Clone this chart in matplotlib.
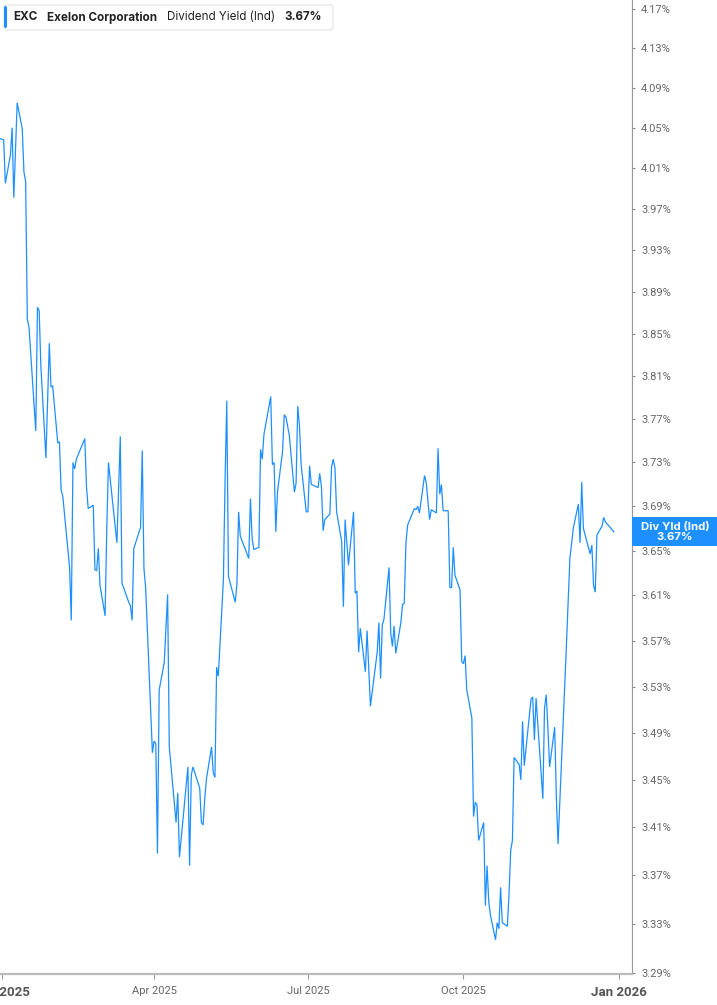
import matplotlib
matplotlib.use("Agg")
import matplotlib.pyplot as plt
from matplotlib.patches import FancyBboxPatch, Rectangle
from matplotlib.ticker import FixedLocator, FuncFormatter, NullLocator
import pandas as pd

# EXC dividend yield (Ind)
dates = [
    "2024-12-31", "2025-01-02", "2025-01-03", "2025-01-06", "2025-01-07", "2025-01-08",
    "2025-01-10", "2025-01-13", "2025-01-14", "2025-01-15", "2025-01-16", "2025-01-17",
    "2025-01-21", "2025-01-22", "2025-01-23", "2025-01-24", "2025-01-27", "2025-01-29",
    "2025-01-30", "2025-01-31", "2025-02-03", "2025-02-04", "2025-02-05", "2025-02-06",
    "2025-02-10", "2025-02-11", "2025-02-12", "2025-02-13", "2025-02-14", "2025-02-19",
    "2025-02-20", "2025-02-21", "2025-02-24", "2025-02-25", "2025-02-26", "2025-02-27",
    "2025-02-28", "2025-03-03", "2025-03-04", "2025-03-05", "2025-03-10", "2025-03-12",
    "2025-03-13", "2025-03-17", "2025-03-18", "2025-03-19", "2025-03-20", "2025-03-24",
    "2025-03-25", "2025-03-26", "2025-03-27", "2025-03-31", "2025-04-01", "2025-04-02",
    "2025-04-03", "2025-04-04", "2025-04-07", "2025-04-09", "2025-04-10", "2025-04-14",
    "2025-04-15", "2025-04-16", "2025-04-21", "2025-04-22", "2025-04-23", "2025-04-24",
    "2025-04-28", "2025-04-29", "2025-04-30", "2025-05-01", "2025-05-02", "2025-05-05",
    "2025-05-06", "2025-05-07", "2025-05-08", "2025-05-09", "2025-05-12", "2025-05-13",
    "2025-05-14", "2025-05-15", "2025-05-19", "2025-05-20", "2025-05-21", "2025-05-22",
    "2025-05-27", "2025-05-28", "2025-05-29", "2025-05-30", "2025-06-02", "2025-06-03",
    "2025-06-04", "2025-06-05", "2025-06-09", "2025-06-10", "2025-06-11", "2025-06-12",
    "2025-06-13", "2025-06-16", "2025-06-17", "2025-06-18", "2025-06-20", "2025-06-23",
    "2025-06-24", "2025-06-25", "2025-06-26", "2025-06-27", "2025-06-30", "2025-07-01",
    "2025-07-02", "2025-07-03", "2025-07-07", "2025-07-08", "2025-07-09", "2025-07-10",
    "2025-07-11", "2025-07-14", "2025-07-15", "2025-07-16", "2025-07-17", "2025-07-18",
    "2025-07-21", "2025-07-22", "2025-07-23", "2025-07-25", "2025-07-28", "2025-07-29",
    "2025-07-30", "2025-07-31", "2025-08-01", "2025-08-04", "2025-08-05", "2025-08-07",
    "2025-08-11", "2025-08-12", "2025-08-13", "2025-08-14", "2025-08-15", "2025-08-18",
    "2025-08-19", "2025-08-20", "2025-08-21", "2025-08-22", "2025-08-25", "2025-08-26",
    "2025-08-27", "2025-08-28", "2025-08-29", "2025-09-02", "2025-09-03", "2025-09-04",
    "2025-09-05", "2025-09-08", "2025-09-09", "2025-09-11", "2025-09-12", "2025-09-15",
    "2025-09-16", "2025-09-17", "2025-09-18", "2025-09-19", "2025-09-22", "2025-09-23",
    "2025-09-24", "2025-09-25", "2025-09-26", "2025-09-29", "2025-09-30", "2025-10-01",
    "2025-10-02", "2025-10-03", "2025-10-06", "2025-10-07", "2025-10-08", "2025-10-09",
    "2025-10-10", "2025-10-13", "2025-10-14", "2025-10-15", "2025-10-16", "2025-10-17",
    "2025-10-20", "2025-10-21", "2025-10-22", "2025-10-23", "2025-10-24", "2025-10-27",
    "2025-10-28", "2025-10-29", "2025-10-30", "2025-10-31", "2025-11-03", "2025-11-04",
    "2025-11-05", "2025-11-06", "2025-11-10", "2025-11-11", "2025-11-12", "2025-11-13",
    "2025-11-17", "2025-11-18", "2025-11-19", "2025-11-20", "2025-11-21", "2025-11-24",
    "2025-11-25", "2025-11-26", "2025-12-01", "2025-12-03", "2025-12-05", "2025-12-08",
    "2025-12-09", "2025-12-10", "2025-12-11", "2025-12-15", "2025-12-16", "2025-12-17",
    "2025-12-18", "2025-12-19", "2025-12-22", "2025-12-23", "2025-12-24", "2025-12-29",
]
yields = [
    4.039, 4.038, 3.995, 4.023, 4.050, 3.981,
    4.075, 4.049, 4.006, 3.997, 3.864, 3.856,
    3.759, 3.875, 3.872, 3.820, 3.734, 3.841,
    3.800, 3.801, 3.748, 3.749, 3.705, 3.699,
    3.635, 3.588, 3.730, 3.724, 3.733, 3.752,
    3.708, 3.688, 3.691, 3.633, 3.632, 3.652,
    3.619, 3.592, 3.669, 3.730, 3.657, 3.754,
    3.621, 3.604, 3.601, 3.588, 3.652, 3.671,
    3.741, 3.634, 3.617, 3.473, 3.483, 3.481,
    3.388, 3.527, 3.551, 3.611, 3.478, 3.414,
    3.439, 3.385, 3.461, 3.378, 3.454, 3.461,
    3.443, 3.414, 3.412, 3.435, 3.451, 3.478,
    3.456, 3.452, 3.547, 3.539, 3.624, 3.714,
    3.787, 3.627, 3.604, 3.620, 3.685, 3.663,
    3.643, 3.697, 3.661, 3.651, 3.653, 3.742,
    3.733, 3.756, 3.791, 3.728, 3.730, 3.667,
    3.703, 3.740, 3.774, 3.772, 3.755, 3.703,
    3.711, 3.782, 3.764, 3.728, 3.685, 3.685,
    3.727, 3.710, 3.707, 3.720, 3.708, 3.668,
    3.678, 3.683, 3.726, 3.733, 3.725, 3.685,
    3.658, 3.600, 3.678, 3.637, 3.685, 3.612,
    3.614, 3.560, 3.581, 3.543, 3.579, 3.513,
    3.560, 3.586, 3.537, 3.584, 3.589, 3.635,
    3.577, 3.565, 3.583, 3.559, 3.586, 3.602,
    3.603, 3.657, 3.673, 3.688, 3.687, 3.690,
    3.684, 3.718, 3.712, 3.678, 3.687, 3.684,
    3.743, 3.701, 3.710, 3.686, 3.686, 3.617,
    3.617, 3.653, 3.628, 3.615, 3.552, 3.550,
    3.557, 3.527, 3.503, 3.419, 3.431, 3.429,
    3.399, 3.414, 3.345, 3.378, 3.348, 3.337,
    3.317, 3.331, 3.326, 3.360, 3.331, 3.328,
    3.355, 3.391, 3.399, 3.469, 3.463, 3.450,
    3.500, 3.462, 3.519, 3.521, 3.484, 3.520,
    3.434, 3.512, 3.523, 3.494, 3.461, 3.495,
    3.435, 3.396, 3.568, 3.643, 3.670, 3.692,
    3.657, 3.712, 3.670, 3.647, 3.655, 3.619,
    3.613, 3.664, 3.672, 3.680, 3.676, 3.667,
]

ytick_values = [3.29, 3.33, 3.37, 3.41, 3.45, 3.49, 3.53, 3.57, 3.61, 3.65, 3.69,
                3.73, 3.77, 3.81, 3.85, 3.89, 3.93, 3.97, 4.01, 4.05, 4.09, 4.13, 4.17]
xtick_dates = ["2025-01-01", "2025-04-01", "2025-07-01", "2025-10-01", "2026-01-01"]
xtick_labels = ["Jan 2025", "Apr 2025", "Jul 2025", "Oct 2025", "Jan 2026"]

ticker = "EXC"
company = "Exelon Corporation"
metric = "Dividend Yield (Ind)"
short_metric = "Div Yld (Ind)"

BLUE = "#1e8fff"
W, H = 717, 1005

plt.rcParams["font.family"] = ["Roboto", "DejaVu Sans"]

fig = plt.figure(figsize=(W / 100, H / 100), dpi=100)
ax = fig.add_axes([0, 31 / H, 632 / W, 974 / H])

x = pd.to_datetime(dates)
ax.plot(x, yields, color=BLUE, lw=0.9, solid_joinstyle="miter")

ax.set_yscale("log")
ax.set_ylim(3.2892, 4.1792)
ax.set_xlim(pd.Timestamp("2024-12-30 20:00"), pd.Timestamp("2026-01-08 18:00"))

ax.yaxis.set_major_locator(FixedLocator(ytick_values))
ax.yaxis.set_minor_locator(NullLocator())
ax.yaxis.set_major_formatter(FuncFormatter(lambda v, p: f"{v:.2f}%"))
ax.yaxis.tick_right()
ax.tick_params(axis="y", which="major", length=2.5, width=0.8, color="#888888",
               pad=4, labelsize=8, labelcolor="#666666")

ax.set_xticks(pd.to_datetime(xtick_dates), xtick_labels)
ax.tick_params(axis="x", length=3.5, width=0.8, color="#999999", pad=5,
               labelsize=8, labelcolor="#666666")
for lab in ax.get_xticklabels():
    if lab.get_text().startswith("Jan"):
        lab.set_fontweight("bold")
        lab.set_fontsize(9.5)
        lab.set_color("#555555")

for s in ("left", "top"):
    ax.spines[s].set_visible(False)
ax.spines["right"].set_color("#999999")
ax.spines["right"].set_linewidth(0.8)
ax.spines["bottom"].set_color("#bbbbbb")
ax.spines["bottom"].set_linewidth(1.6)


def fx(px):
    return px / W


def fy(py):
    return 1 - py / H


# header legend box
fig.patches.append(FancyBboxPatch((fx(4), fy(30)), fx(329), 25 / H,
                                  boxstyle="round,pad=0,rounding_size=0.004",
                                  transform=fig.transFigure, facecolor="white",
                                  edgecolor="#e3e3e3", lw=0.8, zorder=5))
fig.patches.append(FancyBboxPatch((fx(4), fy(28)), fx(3), 22 / H,
                                  boxstyle="round,pad=0,rounding_size=0.002",
                                  transform=fig.transFigure, facecolor=BLUE,
                                  edgecolor="none", zorder=6))
hdr_font = ["Inter", "DejaVu Sans"]
last = yields[-1]
for px, txt, wt in [(13, ticker, "bold"), (47, company, "bold"),
                    (167, metric, "normal"), (284, f"{last:.2f}%", "bold")]:
    fig.text(fx(px), fy(17.5), txt, ha="left", va="center", fontsize=8.4,
             fontweight=wt, color="#222222", family=hdr_font, zorder=7)

# last value flag on the right axis
fig.canvas.draw()
y_disp = ax.transData.transform((ax.get_xlim()[0], last))[1]
yc = y_disp / fig.bbox.height
fig.patches.append(Rectangle((fx(632), yc - 14.5 / H), fx(85), 29 / H,
                             transform=fig.transFigure, facecolor=BLUE,
                             edgecolor="none", zorder=5))
fig.text(fx(675), yc, f"{short_metric}\n{last:.2f}%", ha="center", va="center",
         fontsize=8.2, fontweight="bold", color="white", linespacing=1.05,
         family=hdr_font, zorder=7)

fig.savefig("out.png", dpi=100)
